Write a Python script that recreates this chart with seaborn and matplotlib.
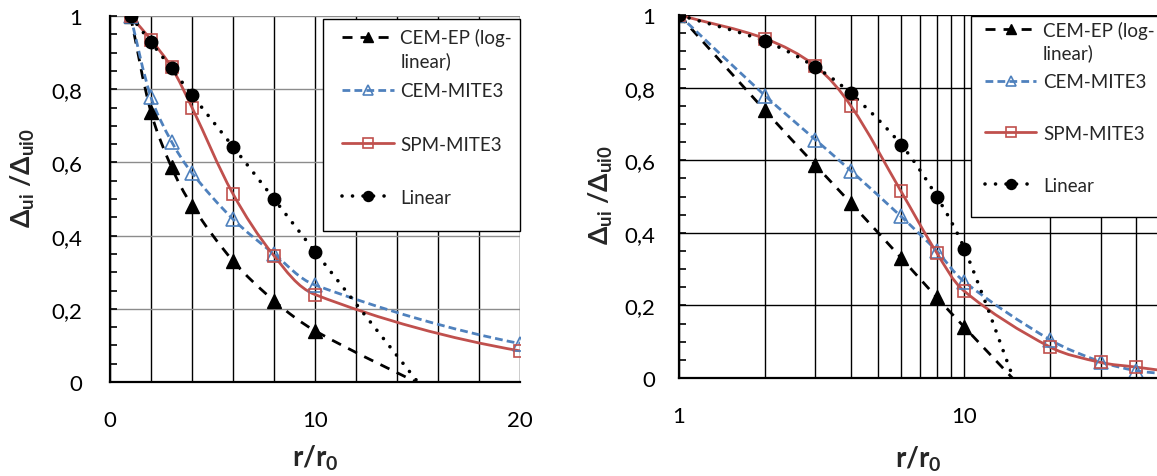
import numpy as np
import matplotlib
matplotlib.use("Agg")
import matplotlib.pyplot as plt
import seaborn as sns
from matplotlib.ticker import MultipleLocator, FixedLocator, FuncFormatter, NullFormatter
from matplotlib.path import Path
from matplotlib.patches import PathPatch, Rectangle
from matplotlib.lines import Line2D

# ---- data ----
r_ep = [1, 2, 3, 4, 6, 8, 10, 16]
cem_ep = [1.0, 0.737, 0.587, 0.482, 0.331, 0.222, 0.14, -0.03]
r_lin = [1, 2, 3, 4, 6, 8, 10, 16]
linear = [1.0, 0.928, 0.857, 0.784, 0.643, 0.5, 0.356, -0.07]
r_mite = [1, 2, 3, 4, 6, 8, 10, 20, 30, 40, 50]
cem_mite3 = [1.0, 0.778, 0.657, 0.571, 0.445, 0.35, 0.265, 0.105, 0.045, 0.02, 0.012]
spm_mite3 = [1.0, 0.935, 0.86, 0.75, 0.514, 0.345, 0.239, 0.085, 0.043, 0.03, 0.02]
labels = ["CEM-EP (log-", "CEM-MITE3", "SPM-MITE3", "Linear"]
label_wrap = "linear)"
y_ticks = [0, 0.2, 0.4, 0.6, 0.8, 1.0]
x_ticks_lin = [0, 10, 20]
x_minor_lin = [2, 4, 6, 8, 12, 14, 16, 18, 20]
x_ticks_log = [1, 10]
x_minor_log = [2, 3, 4, 5, 6, 7, 8, 9, 20, 30, 40]

sns.set_style("white")
plt.rcParams['font.family'] = ['Lato', 'DejaVu Sans']
plt.rcParams['mathtext.fontset'] = 'custom'
plt.rcParams['mathtext.rm'] = 'Lato'
plt.rcParams['mathtext.bf'] = 'Lato:bold'
plt.rcParams['mathtext.it'] = 'Lato:italic'

BLUE = '#4F81BD'
RED = '#C0504D'

series = [
    dict(x=r_ep, y=cem_ep, color='black', lw=2.0, ls=(0, (3.6, 2.9)), cap='butt',
         marker='^', ms=9.5, mfc='black', mew=1.0),
    dict(x=r_mite, y=cem_mite3, color=BLUE, lw=2.0, ls=(0, (2.8, 1.5)), cap='butt',
         marker='^', ms=9.5, mfc='none', mew=1.2),
    dict(x=r_mite, y=spm_mite3, color=RED, lw=2.0, ls='-', cap='butt',
         marker='s', ms=8.5, mfc='none', mew=1.2),
    dict(x=r_lin, y=linear, color='black', lw=2.6, ls=(0, (0.01, 2.9)), cap='round',
         marker='o', ms=9, mfc='black', mew=1.0),
]

fig = plt.figure(figsize=(11.57, 4.77), dpi=100)
axL = fig.add_axes([110/1157, 94/477, 410/1157, 366/477])
axR = fig.add_axes([679/1157, 98/477, 478/1157, 363/477])

comma = FuncFormatter(lambda v, p: f"{v:g}".replace('.', ','))

# axis setup first (the smoothing is done in screen space)
axL.set_xlim(0, 20)
axL.set_ylim(0, 1)
axR.set_xscale('log')
axR.set_xlim(1, 47.3)
axR.set_ylim(0, 1)


def smooth_path(ax, xs, ys):
    """Smoothed Bezier path through the data points, built in screen space
    (like a spreadsheet 'smoothed line'), returned in data coordinates."""
    T = ax.transData
    P = T.transform(np.column_stack([np.asarray(xs, float), np.asarray(ys, float)]))
    n = len(P)
    verts = [P[0]]
    codes = [Path.MOVETO]
    for i in range(n - 1):
        p0 = P[max(i - 1, 0)]
        p1 = P[i]
        p2 = P[i + 1]
        p3 = P[min(i + 2, n - 1)]
        L = np.linalg.norm(p2 - p1)
        t1 = (p2 - p0) / np.linalg.norm(p2 - p0)
        t2 = (p3 - p1) / np.linalg.norm(p3 - p1)
        verts += [p1 + t1 * L / 3.0, p2 - t2 * L / 3.0, p2]
        codes += [Path.CURVE4] * 3
    verts = T.inverted().transform(np.array(verts))
    return Path(verts, codes)


def draw(ax):
    handles = []
    for s in series:
        patch = PathPatch(smooth_path(ax, s['x'], s['y']), facecolor='none',
                          edgecolor=s['color'], linewidth=s['lw'], linestyle=s['ls'],
                          capstyle=s['cap'], zorder=2)
        ax.add_patch(patch)
        sns.lineplot(x=s['x'], y=s['y'], ax=ax, color=s['color'], linestyle='none',
                     marker=s['marker'], markersize=s['ms'], markerfacecolor=s['mfc'],
                     markeredgecolor=s['color'], markeredgewidth=s['mew'],
                     errorbar=None, sort=False, legend=False, zorder=3)
        h = Line2D([], [], color=s['color'], linewidth=s['lw'], linestyle=s['ls'],
                   marker=s['marker'], markersize=s['ms'] * 0.8, markerfacecolor=s['mfc'],
                   markeredgecolor=s['color'], markeredgewidth=s['mew'])
        if s['cap'] == 'round':
            h.set_dash_capstyle('round')
        handles.append(h)
    ax.yaxis.set_major_locator(FixedLocator(y_ticks))
    ax.yaxis.set_minor_locator(MultipleLocator(0.05))
    ax.yaxis.set_major_formatter(comma)
    ax.set_axisbelow(True)
    for sp in ['top', 'right']:
        ax.spines[sp].set_visible(False)
    for sp in ['left', 'bottom']:
        ax.spines[sp].set_color('black')
        ax.spines[sp].set_linewidth(1.6)
        ax.spines[sp].set_zorder(4)
    ax.tick_params(axis='y', which='both', direction='in', length=5, width=1.2,
                   left=True, colors='black', labelsize=16)
    ax.tick_params(axis='x', which='both', length=0, labelsize=16, colors='black')
    ax.set_xlabel(r'$\mathbf{r/r_0}$', fontsize=20)
    ax.set_ylabel(r'$\mathbf{\Delta_{ui}\ /\Delta_{ui0}}$', fontsize=19)
    return handles


def add_legend(ax, handles, frame, anchor, spacing):
    ax.add_patch(Rectangle((frame[0], frame[1]), frame[2] - frame[0], frame[3] - frame[1],
                           transform=ax.transAxes, facecolor='white', edgecolor='black',
                           linewidth=1.0, zorder=4.5, clip_on=False))
    leg = ax.legend(handles, labels, fontsize=13.5, frameon=False,
                    handlelength=2.75, handletextpad=0.35, labelspacing=spacing,
                    borderpad=0, numpoints=1, borderaxespad=0,
                    loc='upper left', bbox_to_anchor=anchor)
    leg.set_zorder(5)
    return leg


hL = draw(axL)
axL.xaxis.set_major_locator(FixedLocator(x_ticks_lin))
axL.xaxis.set_minor_locator(FixedLocator(x_minor_lin))
axL.grid(which='both', axis='x', color='black', linewidth=1)
axL.grid(which='major', axis='y', color='#8c8c8c', linewidth=1)
axL.tick_params(axis='y', which='major', pad=20)
axL.tick_params(axis='x', which='major', pad=20)
axL.yaxis.set_label_coords(-0.178, 0.56)
axL.xaxis.set_label_coords(0.5, -0.165)
legL = add_legend(axL, hL, (0.5195, 0.4126, 1.0, 0.9918), (0.566, 0.967), 1.93)

hR = draw(axR)
axR.xaxis.set_major_locator(FixedLocator(x_ticks_log))
axR.xaxis.set_minor_locator(FixedLocator(x_minor_log))
axR.xaxis.set_major_formatter(FuncFormatter(lambda v, p: f"{v:g}"))
axR.xaxis.set_minor_formatter(NullFormatter())
axR.grid(which='both', axis='x', color='black', linewidth=1)
axR.grid(which='major', axis='y', color='black', linewidth=1)
axR.tick_params(axis='y', which='major', pad=17)
axR.tick_params(axis='x', which='major', pad=20)
axR.yaxis.set_label_coords(-0.134, 0.507)
axR.xaxis.set_label_coords(0.5, -0.18)
legR = add_legend(axR, hR, (0.6109, 0.4435, 1.06, 0.9972), (0.640, 0.985), 1.85)

# second line of the first legend label, under its first line
fig.canvas.draw()
for ax, leg in ((axL, legL), (axR, legR)):
    bb = leg.get_texts()[0].get_window_extent()
    xf, yf = fig.transFigure.inverted().transform((bb.x0, (bb.y0 + bb.y1) / 2 - 23))
    fig.text(xf, yf, label_wrap, fontsize=13.5, ha='left', va='center', zorder=6)

fig.savefig('out.png', dpi=100)
